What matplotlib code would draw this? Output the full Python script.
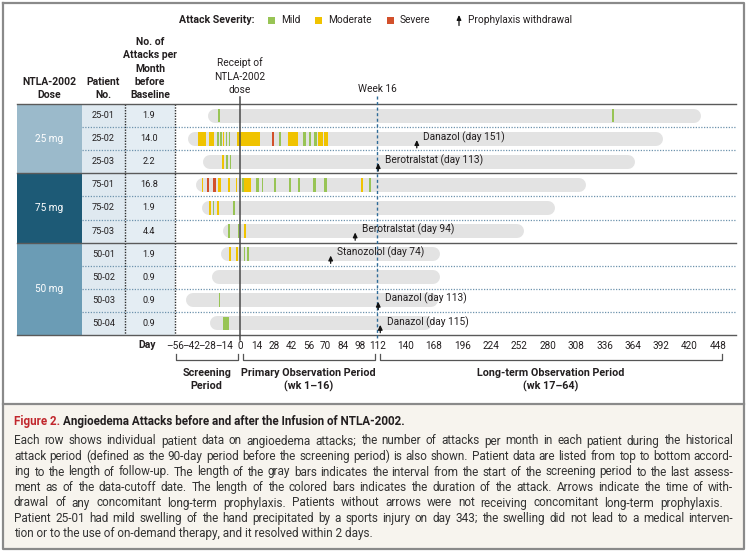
import numpy as np
import matplotlib
matplotlib.use('Agg')
import matplotlib.pyplot as plt
from matplotlib import font_manager, transforms
from matplotlib.patches import Rectangle

# ---------------- data ----------------
doses = ['25 mg', '75 mg', '50 mg']
dose_rows = [3, 3, 4]
patients = ['25-01', '25-02', '25-03', '75-01', '75-02', '75-03',
            '50-01', '50-02', '50-03', '50-04']
attacks_per_month = ['1.9', '14.0', '2.2', '16.8', '1.9', '4.4',
                     '1.9', '0.9', '0.9', '0.9']
follow_start = [-28, -44.5, -32, -37.5, -32.5, -15, -16, -24.5, -46.5, -26]
follow_end = [431, 394, 366, 318, 287, 257, 174, 174, 172, 166]

attack_patient = (['25-01'] * 2 + ['25-02'] * 16 + ['25-03'] * 3 + ['75-01'] * 17
                  + ['75-02'] * 4 + ['75-03'] * 3 + ['50-01'] * 4 + ['50-03'] + ['50-04'])
attack_start = [-18.7, 343,
                -36, -26.5, -20, -17, -15, -12.5, -9.5, -2.5, 26.5, 31.5, 39.5, 51.5, 56, 60.5, 64, 68.5,
                -15.3, -12, -9,
                -33, -28.2, -23, -18.7, -10.1, -3.7, 1.9, 3.3, 12.8, 17.7, 27.8, 39.8, 47.6, 59.8, 68.6, 98.8, 105.6,
                -26.4, -23.5, -20.1, -5.8,
                -10.6, -2.0, 3.3,
                -9.2, -3.4, 3.3, 6.0,
                -18.3,
                -14.4]
attack_end = [-17.0, 345,
              -29.5, -22.5, -18, -15.5, -13.5, -11.5, -8.5, 16, 28, 33.5, 47, 53.5, 58, 62.5, 67.5, 72,
              -13.5, -10.5, -7.5,
              -31.6, -26.4, -20.7, -16.6, -8.6, -2.3, 3.3, 9.0, 15.3, 18.5, 29.1, 41.4, 49.0, 61.8, 70.8, 100.7, 106.7,
              -25.0, -22.1, -18.3, -4.3,
              -8.6, -0.6, 4.9,
              -8.0, -2.0, 4.3, 7.3,
              -17.0,
              -9.2]
attack_severity = ['Mild', 'Mild',
                   'Moderate', 'Moderate', 'Mild', 'Mild', 'Moderate', 'Mild', 'Mild', 'Moderate', 'Severe',
                   'Mild', 'Moderate', 'Mild', 'Mild', 'Mild', 'Moderate', 'Moderate',
                   'Moderate', 'Mild', 'Mild',
                   'Moderate', 'Severe', 'Severe', 'Moderate', 'Moderate', 'Moderate', 'Mild', 'Moderate', 'Mild',
                   'Mild', 'Mild', 'Mild', 'Mild', 'Mild', 'Mild', 'Moderate', 'Mild',
                   'Moderate', 'Mild', 'Moderate', 'Mild',
                   'Mild', 'Mild', 'Moderate',
                   'Moderate', 'Moderate', 'Mild', 'Mild',
                   'Mild',
                   'Mild']

withdraw_patient = ['25-02', '25-03', '75-03', '50-01', '50-03', '50-04']
withdraw_drug = ['Danazol', 'Berotralstat', 'Berotralstat', 'Stanozolol', 'Danazol', 'Danazol']
withdraw_day = [151, 113, 94, 74, 113, 115]

day_ticks = [-56, -42, -28, -14, 0, 14, 28, 42, 56, 70, 84, 98, 112,
             140, 168, 196, 224, 252, 280, 308, 336, 364, 392, 420, 448]
day_tick_labels = [('\u2013%d' % -t) if t < 0 else str(t) for t in day_ticks]

severity_names = ['Mild', 'Moderate', 'Severe']
severity_colors = {'Mild': '#98c455', 'Moderate': '#f0c300', 'Severe': '#d2502b'}

caption_title_red = 'Figure 2.'
caption_title = 'Angioedema Attacks before and after the Infusion of NTLA-2002.'
caption_lines = [
    'Each row shows individual patient data on angioedema attacks; the number of attacks per month in each patient during the historical',
    'attack period (defined as the 90-day period before the screening period) is also shown. Patient data are listed from top to bottom accord-',
    'ing to the length of follow-up. The length of the gray bars indicates the interval from the start of the screening period to the last assess-',
    'ment as of the data-cutoff date. The length of the colored bars indicates the duration of the attack. Arrows indicate the time of with-',
    'drawal of any concomitant long-term prophylaxis. Patients without arrows were not receiving concomitant long-term prophylaxis.',
    'Patient 25-01 had mild swelling of the hand precipitated by a sports injury on day 343; the swelling did not lead to a medical interven-',
    'tion or to the use of on-demand therapy, and it resolved within 2 days.',
]

# ---------------- fonts ----------------
avail = {f.name for f in font_manager.fontManager.ttflist}
FONT = 'Liberation Sans Narrow' if 'Liberation Sans Narrow' in avail else 'Roboto'
plt.rcParams['font.family'] = [FONT, 'DejaVu Sans']
TXT = '#231f20'

# ---------------- figure ----------------
W, H = 750, 553
fig = plt.figure(figsize=(W / 100, H / 100), dpi=100)
fig.patch.set_facecolor('white')
ax0 = fig.add_axes([0, 0, 1, 1])
ax0.set_xlim(0, W)
ax0.set_ylim(H, 0)
ax0.axis('off')
renderer = fig.canvas.get_renderer()


def width_of(s, **kw):
    t = ax0.text(0, 0, s, **kw)
    w = t.get_window_extent(renderer).width
    t.remove()
    return w


def fit(sample, target, **kw):
    return 10.0 * target / width_of(sample, fontsize=10.0, **kw)


FS_TICK = fit('140 168 196 224', 75.0)
FS_VAL = fit('25-01', 23.0)
FS_HDR = fit('NTLA-2002', 54.0, fontweight='bold')
FS_NOTE = fit('Danazol (day 151)', 81.0)
FS_LEG = fit('Attack Severity:', 75.0, fontweight='bold')
FS_LEGT = fit('Prophylaxis withdrawal', 104.0)
FS_PER = fit('Long-term Observation Period', 147.0, fontweight='bold')
FS_DOSE = fit('25 mg', 28.0)
FS_TITLE = fit(caption_title_red + ' ' + caption_title, 392.0, fontweight='bold')

L, R, T, B = 175, 736, 104, 335
ax = fig.add_axes([L / W, (H - B) / H, (R - L) / W, (B - T) / H])
ax.patch.set_alpha(0)
for s in ax.spines.values():
    s.set_visible(False)


def fwd(d):
    d = np.asarray(d, dtype=float)
    return np.where(d < 0, d * 1.161,
                    np.where(d <= 112, d * 1.225, 112 * 1.225 + (d - 112) * 1.0143))


def inv(u):
    u = np.asarray(u, dtype=float)
    b = 112 * 1.225
    return np.where(u < 0, u / 1.161,
                    np.where(u <= b, u / 1.225, 112 + (u - b) / 1.0143))


ax.set_xscale('function', functions=(fwd, inv))
ax.set_xlim(-56, 465.7)
ax.set_ylim(len(patients), 0)
ax.set_yticks([])
ax.set_xticks(day_ticks)
ax.set_xticklabels(day_tick_labels)
ax.tick_params(axis='x', length=0, pad=4.5, labelsize=FS_TICK, labelcolor=TXT)

nrow = len(patients)
yrow = np.arange(nrow) + 0.5

bx = transforms.blended_transform_factory(ax0.transData, ax.transData)   # x pixels, y rows
by = transforms.blended_transform_factory(ax.transData, ax0.transData)   # x days, y pixels

# --- table backgrounds ---
dose_colors = ['#9bbacb', '#1d5a76', '#6b9cb5']
r0 = 0
for name, n, c in zip(doses, dose_rows, dose_colors):
    ax0.add_patch(Rectangle((17, r0), 82 - 17, n, transform=bx, facecolor=c, edgecolor='none', zorder=1))
    ax0.text(49.5, r0 + n / 2, name, transform=bx, ha='center', va='center', color='white',
             fontsize=FS_DOSE, zorder=3)
    r0 += n
ax0.add_patch(Rectangle((82, 0), 43, nrow, transform=bx, facecolor='#dfe9f0', edgecolor='none', zorder=1))
ax0.add_patch(Rectangle((125, 0), 50, nrow, transform=bx, facecolor='#e4edf3', edgecolor='none', zorder=1))
for i, (p, a) in enumerate(zip(patients, attacks_per_month)):
    ax0.text(103.5, yrow[i], p, transform=bx, ha='center', va='center', fontsize=FS_VAL, color=TXT, zorder=3)
    ax0.text(149, yrow[i], a, transform=bx, ha='center', va='center', fontsize=FS_VAL, color=TXT, zorder=3)
for xv in (125, 175):
    ax0.plot([xv, xv], [0, nrow], transform=bx, color='#2b2b2b', lw=1.0, ls=(0, (1, 1)), zorder=4)

# --- row separators ---
group_bounds = np.cumsum([0] + dose_rows)
for k in range(nrow + 1):
    if k in group_bounds:
        ax0.plot([17, R], [k, k], transform=bx, color='#5a5a5a', lw=1.0, zorder=4)
    else:
        ax0.plot([82, R], [k, k], transform=bx, color='#6d93ad', lw=0.9, ls=(0, (1, 1.2)), zorder=4)

# --- reference lines ---
ax.plot([0, 0], [97, 340], transform=by, color='#4a4a4a', lw=1.1, zorder=5, clip_on=False)
ax.plot([112, 112], [96, 340], transform=by, color='#2f6b98', lw=1.0, ls=(0, (2.2, 1.8)), zorder=5,
        clip_on=False)
for yy, tt in zip([63, 76.5, 90], ['Receipt of', 'NTLA-2002', 'dose']):
    ax0.text(0, yy, tt, transform=by, ha='center', va='center', fontsize=FS_NOTE, color=TXT)
ax0.text(112, 89, 'Week 16', transform=by, ha='center', va='center', fontsize=FS_NOTE, color=TXT)

# --- gray follow-up bars (rounded) ---
rad = 7.0
for i, (s, e) in enumerate(zip(follow_start, follow_end)):
    pts = ax.transData.transform([(s, yrow[i]), (e, yrow[i])])
    pts[0, 0] += rad
    pts[1, 0] -= rad
    d = ax.transData.inverted().transform(pts)
    ax.plot(d[:, 0], [yrow[i], yrow[i]], color='#e3e3e3', lw=14 * 0.72, solid_capstyle='round', zorder=2)

# --- attacks ---
for p, s, e, sev in zip(attack_patient, attack_start, attack_end, attack_severity):
    i = patients.index(p)
    ax.barh(yrow[i], e - s, left=s, height=0.6, color=severity_colors[sev], linewidth=0, zorder=3)

# --- prophylaxis withdrawal ---
arrow_style = dict(arrowstyle='-|>,head_length=0.28,head_width=0.13', lw=0.9, color='#111111',
                   shrinkA=0, shrinkB=0)
for p, drug, day in zip(withdraw_patient, withdraw_drug, withdraw_day):
    i = patients.index(p)
    ax.annotate('', xy=(day, yrow[i] + 0.06), xytext=(day, yrow[i] + 0.40),
                arrowprops=arrow_style, zorder=6, annotation_clip=False)
    ax.annotate('%s (day %d)' % (drug, day), xy=(day, yrow[i]), xytext=(4.8, 1.2),
                textcoords='offset points', ha='left', va='center', fontsize=FS_NOTE, color=TXT, zorder=6)

# --- header ---
def lines_at(x, ys, texts, **kw):
    for yy, tt in zip(ys, texts):
        ax0.text(x, yy, tt, ha='center', va='center', **kw)


hdr = dict(fontsize=FS_HDR, fontweight='bold', color=TXT)
lines_at(49.5, [82, 95.5], ['NTLA-2002', 'Dose'], **hdr)
lines_at(103.5, [82, 95.5], ['Patient', 'No.'], **hdr)
lines_at(150, [42, 55.3, 68.6, 82, 95.5], ['No. of', 'Attacks per', 'Month', 'before', 'Baseline'], **hdr)
ax0.text(147, 345.5, 'Day', ha='center', va='center', fontsize=FS_HDR, fontweight='bold', color=TXT)

# --- legend ---
ax0.text(179, 20, 'Attack Severity:', ha='left', va='center', fontsize=FS_LEG, fontweight='bold', color=TXT)
leg_x = [268, 315, 386.5]
for xq, nm in zip(leg_x, severity_names):
    ax0.add_patch(Rectangle((xq, 16.5), 7, 7, facecolor=severity_colors[nm], edgecolor='none'))
    ax0.text(xq + 13, 20, nm, ha='left', va='center', fontsize=FS_LEGT, color=TXT)
ax0.annotate('', xy=(459, 15), xytext=(459, 25.5), arrowprops=arrow_style)
ax0.text(467.5, 20, 'Prophylaxis withdrawal', ha='left', va='center', fontsize=FS_LEGT, color=TXT)

# --- period brackets ---
def dpx(d):
    return ax.transData.transform((d, 0.5))[0]


periods = [(-56, 0, ['Screening', 'Period']),
           (0, 112, ['Primary Observation Period', '(wk 1\u201316)']),
           (112, 448, ['Long-term Observation Period', '(wk 17\u201364)'])]
for k, (a, b, labs) in enumerate(periods):
    x1 = dpx(a) + (1 if k == 0 else 2.5)
    x2 = dpx(b) - 2.5
    if k == 2:
        x2 = dpx(b) + 4
    ax0.plot([x1, x1, x2, x2], [353.5, 360, 360, 353.5], color='#555555', lw=0.9)
    xc = (x1 + x2) / 2
    ax0.text(xc, 373, labs[0], ha='center', va='center', fontsize=FS_PER, fontweight='bold', color=TXT)
    ax0.text(xc, 386, labs[1], ha='center', va='center', fontsize=FS_PER, fontweight='bold', color=TXT)

# --- frames & caption box ---
ax0.add_patch(Rectangle((3, 404), 741, 144.5, facecolor='#f7f4ee', edgecolor='none', zorder=0))
ax0.plot([3, 744, 744, 3, 3], [3, 3, 548.5, 548.5, 3], color='#8a8a8a', lw=1.6, zorder=8)
ax0.plot([3, 744], [403.5, 403.5], color='#8a8a8a', lw=1.6, zorder=8)

# title
tx = 14
t1 = ax0.text(tx, 421, caption_title_red, ha='left', va='center', fontsize=FS_TITLE, fontweight='bold',
              color='#c1272d')
w1 = t1.get_window_extent(renderer).width
ax0.text(tx + w1 + 3, 421, caption_title, ha='left', va='center', fontsize=FS_TITLE, fontweight='bold',
         color=TXT)

# body with justification
base_fs = 9.0
nat = max(width_of(l, fontsize=base_fs) for l in caption_lines)
fs = base_fs * 714 / nat
targets = [733, 733, 733, 733, 723, 733, None]
y0 = 441
for k, line in enumerate(caption_lines):
    yy = y0 + 15.5 * k
    if targets[k] is None:
        ax0.text(tx, yy, line, ha='left', va='center', fontsize=fs, color='#333333')
        continue
    words = line.split(' ')
    ws = [width_of(w, fontsize=fs) for w in words]
    gap = (targets[k] - tx - sum(ws)) / (len(words) - 1)
    xcur = tx
    for w, wd in zip(words, ws):
        ax0.text(xcur, yy, w, ha='left', va='center', fontsize=fs, color='#333333')
        xcur += wd + gap

fig.savefig('out.png', dpi=100, facecolor='white')
